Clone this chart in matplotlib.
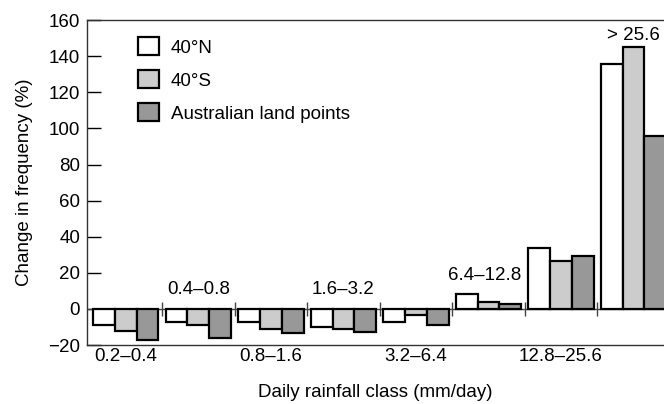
import numpy as np
import matplotlib.pyplot as plt
from matplotlib.patches import Patch

plt.rcParams['font.family'] = ['Liberation Sans', 'DejaVu Sans']

classes = ['0.2\u20130.4', '0.4\u20130.8', '0.8\u20131.6', '1.6\u20133.2',
           '3.2\u20136.4', '6.4\u201312.8', '12.8\u201325.6', '> 25.6']
north40 = [-9, -7.5, -7.5, -10, -7, 8, 34, 135.5]
south40 = [-12, -9, -11, -11, -3.5, 4, 26.5, 145]
australia = [-17, -16, -13.5, -13, -9, 2.5, 29.5, 96]

series = [('40\u00b0N', north40, 'white'),
          ('40\u00b0S', south40, '#cccccc'),
          ('Australian land points', australia, '#989898')]

fs = 13.5
fig = plt.figure(figsize=(6.64, 4.04), dpi=100)
ax = fig.add_axes([0.131, 0.146, 0.869, 0.804])

x = np.arange(len(classes))
w = 0.3
for i, (name, vals, col) in enumerate(series):
    ax.bar(x + (i - 1) * w, vals, width=w, color=col, edgecolor='black',
           linewidth=1.6, label=name, zorder=3)

ax.axhline(0, color='#444444', linewidth=1, zorder=2)
ax.vlines(x[:-1] + 0.5, -4, 4, color='#444444', linewidth=1, zorder=2)

# class labels alternate below the axis and above the bars
for i, lab in enumerate(classes):
    if i % 2 == 0:
        ax.text(x[i], -21.5, lab, ha='center', va='top', fontsize=fs)
    else:
        top = max(north40[i], south40[i], australia[i], 0)
        ax.text(x[i] - (0.05 if i == 5 else 0), top + 6 if i < 7 else 147,
                lab, ha='center', va='bottom', fontsize=fs)

ax.set_xlim(-0.535, 7.42)
ax.set_ylim(-20, 160)
ax.set_yticks(np.arange(-20, 161, 20))
ax.set_xticks([])
ax.tick_params(axis='y', direction='in', length=10, width=1, labelsize=fs, pad=5)
ax.spines['right'].set_visible(False)
for s in ['top', 'bottom', 'left']:
    ax.spines[s].set_color('#333333')
    ax.spines[s].set_linewidth(1)

ax.set_ylabel('Change in frequency (%)', fontsize=fs, labelpad=11)
ax.set_xlabel('Daily rainfall class (mm/day)', fontsize=fs, labelpad=28)

handles = [Patch(facecolor=c, edgecolor='black', linewidth=1.6) for _, _, c in series]
ax.legend(handles, [s[0] for s in series], loc='upper left',
          bbox_to_anchor=(0.06, 1.0), frameon=False, fontsize=fs,
          handlelength=1.12, handleheight=1.12, labelspacing=0.72,
          handletextpad=0.6)

fig.savefig('out.png', dpi=100)
